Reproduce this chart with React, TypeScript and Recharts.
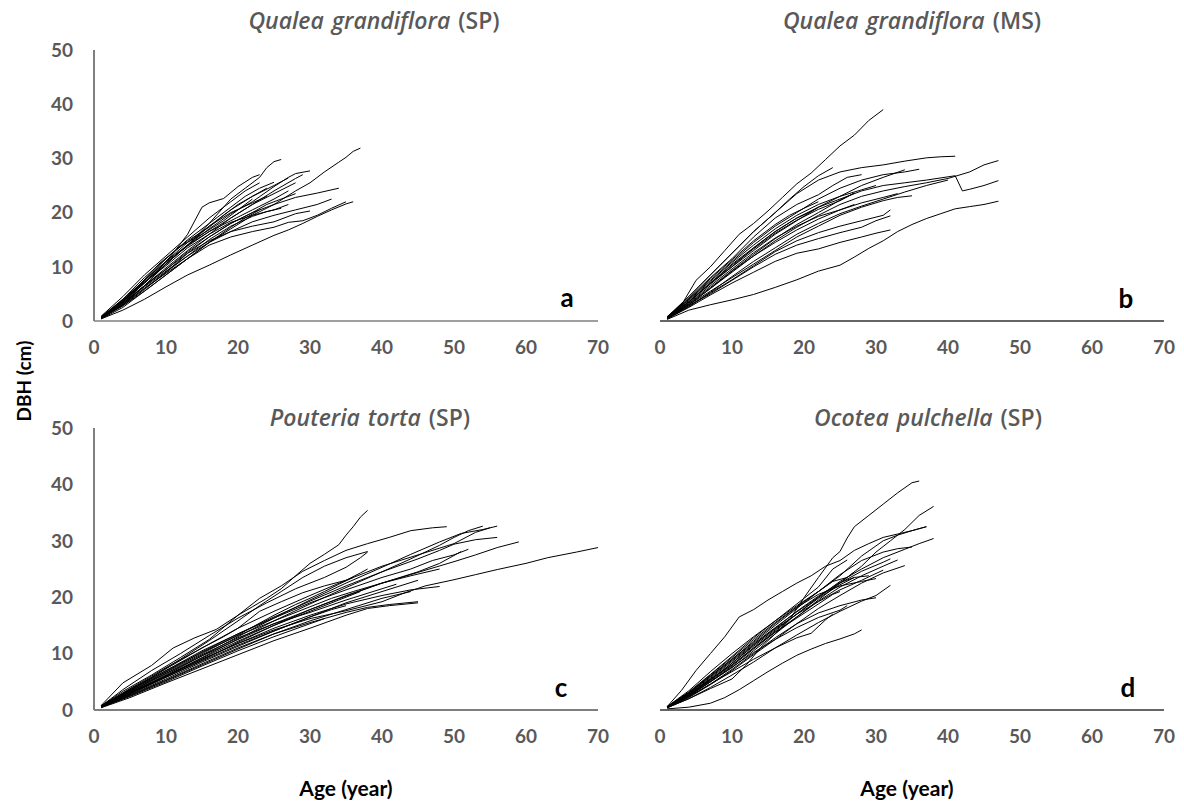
import React from 'react';
import { LineChart, Line, XAxis, YAxis } from 'recharts';

type Curve = [number, number][];

const ageTicks = [0, 10, 20, 30, 40, 50, 60, 70];
const dbhTicks = [0, 10, 20, 30, 40, 50];

// panel a - Qualea grandiflora (SP)
const qualeaSP: Curve[] = [
  [[1, 0.8], [3, 2.6], [5, 4.5], [7, 7], [9, 9.5], [11, 12.5], [13, 16], [15, 21], [16, 21.8], [18, 22.6], [20, 24.8], [22, 26.5], [23, 27]],
  [[1, 0.5], [4, 3], [7, 6.5], [10, 10.5], [13, 14], [16, 18], [19, 22.5], [21, 24.5], [23, 26.5], [24, 28.3], [25, 29.4], [26, 29.8]],
  [[1, 0.6], [4, 2.8], [7, 5.5], [10, 8.5], [13, 11.5], [16, 14.5], [19, 17], [22, 19.5], [25, 21.5], [28, 24], [30, 25.5], [32, 27.5], [34, 29.3], [35, 30.2], [36, 31.3], [37, 31.9]],
  [[1, 0.7], [4, 3.5], [7, 7], [10, 10.5], [13, 14], [16, 17], [19, 19.8], [22, 22], [25, 24.8], [27, 26.5], [28, 27.2], [30, 27.7]],
  [[1, 0.5], [4, 3], [7, 6], [10, 9], [13, 12.5], [16, 15.5], [19, 18], [22, 20], [25, 21.5], [28, 22.8], [31, 23.6], [34, 24.5]],
  [[1, 0.4], [4, 2], [7, 4], [10, 6.3], [13, 8.5], [16, 10.3], [19, 12.2], [22, 14], [25, 15.8], [27, 16.8], [29, 18], [31, 19.3], [33, 20.5], [35, 21.6], [36, 22]],
  [[1, 0.6], [4, 3], [7, 6], [10, 8.8], [13, 11.5], [16, 14], [19, 15.5], [22, 16.5], [25, 17.3], [27, 18.2], [29, 18.5], [31, 19.5], [33, 20.8], [35, 22]],
  [[1, 0.8], [4, 4], [7, 7.5], [10, 11.5], [13, 15], [16, 18], [19, 21], [21, 23], [23, 24.5], [25, 25.6]],
  [[1, 0.6], [4, 3.5], [7, 7], [10, 10.5], [13, 14], [16, 17.5], [19, 20.5], [22, 23], [25, 25], [27, 26.4]],
  [[1, 0.5], [4, 3.3], [7, 6.5], [10, 9.8], [13, 13], [16, 16], [19, 19], [22, 21.5], [25, 23.5], [28, 25.5]],
  [[1, 0.9], [4, 4.5], [7, 8.5], [10, 12], [13, 15.5], [16, 19], [19, 22], [21, 24], [23, 25.5]],
  [[1, 0.5], [4, 3], [7, 6.5], [10, 9.5], [13, 12.8], [16, 15.5], [19, 18], [22, 20], [24, 21.5], [26, 22.5], [28, 23.5]],
  [[1, 0.6], [4, 3.3], [7, 6.5], [10, 9.5], [13, 12.5], [16, 14.8], [19, 16.5], [22, 17.5], [25, 18.3], [28, 19.8], [30, 20.3]],
  [[1, 0.7], [4, 3.8], [7, 7.5], [10, 11], [13, 14.5], [16, 17.5], [19, 20], [22, 21.8], [24, 23]],
  [[1, 0.4], [4, 2.5], [7, 5.5], [10, 8.5], [13, 11.5], [16, 14.5], [19, 17.3], [21, 19], [23, 20.5]],
  [[1, 0.5], [4, 3.5], [7, 7.5], [10, 11], [13, 14], [16, 16.5], [19, 18.5], [22, 20.5], [25, 22.5], [27, 24]],
  [[1, 0.6], [4, 4], [7, 8], [10, 11.5], [13, 14.8], [16, 17.3], [18, 19.5], [20, 21.5], [22, 23], [24, 24.5]],
  [[1, 0.8], [4, 3.8], [7, 7.2], [10, 10.2], [13, 13.5], [16, 16], [19, 18.2], [22, 19.5], [25, 20.5], [27, 21.5]],
  [[1, 0.5], [4, 2.8], [7, 5.8], [10, 9], [13, 12], [16, 15], [19, 17.5], [22, 19.3], [24, 20.2], [26, 20.8]],
  [[1, 0.6], [4, 3.6], [7, 7.2], [10, 10.8], [13, 13.8], [16, 16.5], [19, 19], [22, 21.5], [25, 24], [28, 26.3], [29, 27]],
  [[1, 0.7], [3, 2.5], [6, 6.2], [9, 10.5], [12, 13.8], [15, 16], [18, 18.5], [20, 20.5], [22, 22.5]],
  [[1, 0.5], [4, 3.2], [7, 6.3], [10, 9.2], [13, 12], [16, 14.5], [19, 16.5], [22, 18.3], [25, 19.5], [28, 20.5], [31, 21.5], [33, 22.5]],
];

// panel b - Qualea grandiflora (MS)
const qualeaMS: Curve[] = [
  [[1, 0.8], [3, 3], [5, 7.5], [7, 10], [9, 13], [11, 16], [13, 18], [15, 20.3], [17, 22.8], [19, 25.3], [21, 27.3], [23, 29.8], [25, 32.3], [27, 34.3], [29, 37], [31, 39]],
  [[1, 0.6], [4, 4.5], [7, 8.5], [10, 12.5], [13, 16.5], [16, 20], [19, 23.5], [22, 26], [25, 27.5], [28, 28.3], [31, 28.8], [34, 29.5], [37, 30.1], [39, 30.3], [41, 30.4]],
  [[1, 0.5], [4, 3.5], [7, 7], [10, 10.5], [13, 13.5], [16, 16.5], [19, 19], [22, 21], [25, 22.5], [28, 24], [31, 25], [34, 25.5], [37, 26], [40, 26.6], [41, 26.8], [42, 24], [43, 24.3], [45, 25], [47, 25.9]],
  [[1, 0.5], [4, 3], [7, 6], [10, 9], [13, 12], [16, 14.8], [19, 17.3], [22, 19.5], [25, 21.5], [28, 23], [31, 24], [34, 24.8], [37, 25.5], [40, 26.3], [43, 27.5], [45, 28.8], [47, 29.6]],
  [[1, 0.3], [4, 2], [7, 3], [10, 3.9], [13, 4.9], [16, 6.2], [19, 7.6], [22, 9.2], [25, 10.3], [27, 11.8], [29, 13.4], [31, 14.8], [33, 16.5], [35, 17.8], [37, 18.9], [39, 19.8], [41, 20.7], [43, 21.1], [45, 21.5], [47, 22.1]],
  [[1, 0.8], [4, 4.5], [7, 8.5], [10, 12.5], [13, 16.5], [16, 20], [18, 22.5], [20, 24.8], [22, 26.8], [24, 28.3]],
  [[1, 0.6], [4, 4], [7, 7.5], [10, 11], [13, 14.5], [16, 17.5], [19, 20], [22, 22.5], [25, 24.5], [28, 26], [31, 27], [34, 27.5], [36, 28]],
  [[1, 0.5], [4, 3.5], [7, 7], [10, 10], [13, 13], [16, 16], [19, 18.5], [22, 21], [25, 23], [28, 25], [31, 26.5], [34, 27.9]],
  [[1, 0.7], [4, 4.2], [7, 8], [10, 11.5], [13, 15.5], [16, 19], [19, 21.5], [22, 23.3], [24, 25], [26, 26.5], [28, 27]],
  [[1, 0.5], [4, 3], [7, 5.5], [10, 8], [13, 10.5], [16, 13], [19, 15.5], [22, 17.5], [25, 19.5], [28, 21], [31, 22.2], [33, 22.8], [35, 23.1]],
  [[1, 0.5], [4, 2.8], [7, 5], [10, 7.5], [13, 10], [16, 12.3], [19, 14], [22, 15.2], [25, 16.3], [28, 17.3], [30, 18.5], [32, 19.4]],
  [[1, 0.4], [4, 2.5], [7, 4.8], [10, 7], [13, 9], [16, 11], [19, 12.5], [22, 13.3], [25, 14.5], [28, 15.5], [30, 16.2], [32, 16.8]],
  [[1, 0.6], [4, 3.5], [7, 6.8], [10, 10], [13, 13.5], [16, 16.5], [19, 19], [21, 20.2], [22, 21]],
  [[1, 0.5], [4, 3.2], [7, 6.2], [10, 9.3], [13, 12.3], [16, 15.2], [19, 17.8], [22, 20], [25, 22.3], [27, 23.6]],
  [[1, 0.5], [4, 3], [7, 6], [10, 9.2], [13, 12], [16, 14.5], [19, 16.8], [22, 18.8], [25, 20.5], [28, 21.8], [31, 22.8], [33, 23.5]],
  [[1, 0.6], [4, 3.8], [7, 7.3], [10, 10.8], [13, 14], [16, 17], [19, 19.5], [22, 21.5], [25, 23], [28, 24.2], [30, 25]],
  [[1, 0.4], [4, 2.6], [7, 5.3], [10, 8.2], [13, 11], [16, 13.5], [19, 16], [22, 18], [25, 19.8], [28, 21.2], [31, 22.5], [34, 23.8], [37, 25], [40, 26]],
  [[1, 0.5], [4, 3.3], [7, 6.5], [10, 9.6], [13, 12.6], [16, 15.3], [19, 17.5], [22, 19.3], [25, 20.5], [27, 21.5]],
  [[1, 0.7], [4, 4], [7, 7.8], [10, 11.3], [13, 14.8], [16, 17.8], [18, 19.5], [20, 20.8], [22, 22]],
  [[1, 0.5], [4, 2.8], [7, 5.2], [10, 7.6], [13, 10.2], [16, 12.8], [19, 14.8], [22, 16.3], [25, 17.5], [28, 18.5], [31, 19.5], [32, 20.5]],
  [[1, 0.6], [4, 3.6], [7, 7], [10, 10.3], [13, 13.3], [16, 16.2], [19, 18.6], [22, 20.6], [25, 22.2], [27, 23.6]],
];

// panel c - Pouteria torta (SP)
const pouteria: Curve[] = [
  [[1, 0.8], [4, 4.8], [8, 7.9], [11, 11], [14, 12.8], [17, 14.3], [20, 16.8], [22, 18.3], [24, 19.8], [26, 21.5], [28, 23.8], [30, 26], [32, 27.6], [34, 29.3], [35, 31], [36, 32.5], [37, 34.2], [38, 35.4]],
  [[1, 0.7], [4, 3.3], [8, 6.2], [12, 9.3], [16, 12.5], [20, 16.8], [23, 19.8], [26, 22], [29, 24.6], [32, 26.5], [35, 28.3], [38, 29.5], [41, 30.6], [44, 31.8], [47, 32.3], [49, 32.5]],
  [[1, 0.7], [4, 3], [8, 5.8], [12, 9], [16, 12.3], [20, 15.8], [23, 18.5], [26, 21], [29, 23.5], [32, 25.5], [35, 27], [38, 28.1]],
  [[1, 0.6], [5, 3], [10, 6], [15, 9.3], [20, 12.6], [25, 15.8], [30, 18.8], [35, 21.7], [40, 24.5], [44, 26.8], [48, 29.2], [50, 30.6], [52, 31.8], [54, 32.6]],
  [[1, 0.5], [5, 3], [10, 6.2], [15, 9.6], [20, 13], [25, 16.3], [30, 19.5], [35, 22.5], [40, 25.3], [44, 27.6], [48, 29.8], [51, 31.3], [54, 32], [56, 32.6]],
  [[1, 0.6], [5, 3.4], [10, 6.8], [15, 10.3], [20, 13.5], [25, 16.5], [30, 19.3], [35, 22], [40, 24.5], [45, 26.8], [48, 28.3], [50, 29.4], [53, 30.2], [56, 30.6]],
  [[1, 0.5], [5, 2.8], [10, 5.8], [15, 8.8], [20, 12], [25, 15], [30, 17.8], [35, 20.3], [40, 22.5], [45, 24.4], [50, 26.3], [53, 27.5], [56, 28.8], [59, 29.8]],
  [[1, 0.6], [5, 3], [10, 6], [15, 9], [20, 11.8], [25, 14.2], [30, 16.2], [35, 17.6], [40, 19.2], [43, 20.7], [46, 22], [50, 23.1], [53, 24], [56, 24.9], [60, 26], [63, 27], [67, 28], [70, 28.8]],
  [[1, 0.7], [5, 3.6], [10, 7], [15, 10.5], [20, 13.5], [25, 16.3], [30, 19], [35, 21.3], [40, 23.5], [44, 25], [47, 26.5], [50, 27.5], [52, 28.5]],
  [[1, 0.5], [5, 3.2], [10, 6.4], [15, 9.6], [20, 12.5], [25, 15.3], [30, 17.8], [35, 20.2], [40, 22.5], [45, 24.5], [48, 26], [51, 28.1]],
  [[1, 0.6], [5, 3], [10, 6], [15, 9], [20, 11.8], [25, 14.5], [30, 16.8], [35, 18.8], [40, 20.3], [44, 21.3], [48, 21.9]],
  [[1, 0.5], [5, 2.6], [10, 5.3], [15, 8.2], [20, 11], [25, 13.5], [30, 15.5], [35, 17.3], [38, 18.2], [41, 18.7], [45, 19.2]],
  [[1, 0.8], [5, 3.5], [10, 7.3], [15, 11], [18, 13], [20, 14.5], [23, 17.5], [26, 19.2], [29, 20.8], [32, 22], [35, 23], [37, 24.3], [38, 25]],
  [[1, 0.4], [5, 2.2], [10, 4.8], [15, 7.3], [20, 9.8], [25, 12.3], [30, 14.5], [35, 16.8], [38, 18], [41, 18.5], [45, 19]],
  [[1, 0.5], [5, 2.5], [10, 5.2], [15, 8], [20, 10.8], [25, 13.5], [30, 15.8], [35, 17.8], [40, 19.8], [44, 21]],
  [[1, 0.6], [5, 3.5], [10, 7], [15, 10.2], [20, 13.2], [25, 15.8], [30, 18.3], [33, 19.8], [36, 21], [40, 22.5], [44, 23.8], [48, 25]],
  [[1, 0.5], [5, 2.9], [10, 5.8], [15, 8.7], [20, 11.5], [25, 14], [30, 16.5], [35, 19], [40, 21], [45, 23]],
  [[1, 0.6], [5, 3.3], [10, 6.5], [15, 9.8], [20, 12.8], [25, 15.3], [30, 17.3], [35, 19.5], [40, 21.5], [42, 22.3]],
  [[1, 0.7], [4, 3.6], [8, 7], [12, 10], [16, 13.2], [20, 16.3], [24, 19], [28, 21.5], [32, 23.5], [35, 25.3], [37, 27], [38, 28]],
  [[1, 0.5], [5, 3.1], [10, 6.1], [15, 9.2], [20, 12.2], [25, 15], [30, 17.5], [34, 19.5], [37, 21]],
  [[1, 0.6], [5, 3.2], [10, 6.7], [15, 10], [20, 13.3], [25, 16.8], [28, 18.7], [30, 19.8], [32, 21], [34, 22.3], [36, 23.5]],
  [[1, 0.5], [5, 2.7], [10, 5.5], [15, 8.5], [20, 11.3], [25, 14], [30, 16.5], [33, 17.8], [35, 18.5]],
  [[1, 0.7], [5, 3.8], [10, 7.5], [15, 11], [20, 14.5], [25, 17.5], [30, 20.3], [35, 23], [40, 25.5], [45, 27.5], [50, 29.5], [53, 31.5], [55, 32.3]],
  [[1, 0.5], [5, 2.4], [10, 5], [15, 7.8], [20, 10.5], [25, 13], [30, 15.3], [32, 16.2]],
];

// panel d - Ocotea pulchella (SP)
const ocotea: Curve[] = [
  [[1, 0.4], [4, 2], [7, 3.8], [10, 5.5], [12, 8], [14, 11.1], [16, 13.5], [18, 16], [20, 19.9], [22, 23.5], [24, 27], [25, 28.1], [26, 30.5], [27, 32.5], [29, 34.5], [31, 36.5], [33, 38.5], [35, 40.3], [36, 40.6]],
  [[1, 0.6], [3, 3.5], [5, 7], [7, 10], [9, 13], [11, 16.5], [13, 17.8], [15, 19.5], [17, 21], [19, 22.5], [21, 23.8], [23, 25.5], [25, 26.5], [27, 28.3], [29, 29.5], [31, 30.6], [33, 31.2], [35, 31.8], [37, 32.5]],
  [[1, 0.5], [4, 2.5], [7, 5], [10, 7.5], [13, 10.5], [16, 13.5], [19, 16.5], [22, 19.5], [25, 22.5], [28, 25.5], [30, 28], [32, 30], [34, 32], [36, 34.5], [38, 36.1]],
  [[1, 0.5], [4, 2.8], [7, 5.5], [10, 8], [13, 11], [16, 14], [19, 17], [22, 20], [25, 22.8], [28, 25], [31, 27], [34, 28.5], [36, 29.5], [38, 30.4]],
  [[1, 0.6], [4, 3], [7, 6], [10, 9], [13, 12], [16, 15], [19, 18], [22, 21], [25, 24], [28, 26.5], [31, 28], [33, 28.6], [35, 28.9]],
  [[1, 0.5], [4, 2.5], [7, 5], [10, 7.8], [13, 10.8], [16, 13.8], [19, 16.5], [22, 19.3], [25, 21.8], [28, 23.8], [31, 25.5], [33, 26.6]],
  [[1, 0.4], [4, 2.2], [7, 4.5], [10, 7], [13, 9.8], [16, 12.5], [19, 15.3], [22, 18], [25, 20.3], [28, 22.5], [31, 24.3], [34, 25.6]],
  [[1, 0.4], [4, 2], [7, 4], [10, 6.2], [13, 8.5], [16, 11], [19, 13.3], [22, 15.5], [25, 17.5], [28, 19.3], [30, 20.3], [32, 22.1]],
  [[1, 0.2], [4, 0.5], [7, 1.2], [9, 2.2], [11, 3.6], [13, 5.2], [15, 6.8], [17, 8.3], [19, 9.7], [21, 10.8], [23, 11.8], [25, 12.6], [27, 13.5], [28, 14.2]],
  [[1, 0.6], [4, 3.2], [7, 6.3], [10, 9.5], [13, 12.8], [16, 15.8], [19, 18.8], [22, 21.8], [24, 25], [26, 26.6]],
  [[1, 0.5], [4, 2.6], [7, 5.2], [10, 8], [13, 11], [16, 13.8], [19, 16.3], [22, 18.8], [24, 20.5], [25, 21]],
  [[1, 0.5], [4, 2.4], [7, 4.6], [10, 6.8], [13, 9], [16, 11], [19, 12.8], [21, 13.6], [23, 16], [24, 17]],
  [[1, 0.6], [4, 3], [7, 6], [10, 9], [13, 12.2], [16, 15.3], [19, 18.2], [22, 20.5], [25, 22], [28, 22.8], [30, 23.3]],
  [[1, 0.5], [4, 2.7], [7, 5.4], [10, 8.3], [13, 11.5], [16, 14.5], [19, 17.5], [22, 20.2], [25, 22.6], [27, 23.5], [29, 23.8]],
  [[1, 0.6], [4, 3.4], [7, 6.8], [10, 10], [13, 13], [16, 15.8], [19, 18.5], [22, 21], [25, 23.8], [28, 27.3], [31, 30], [33, 31], [35, 31.8], [37, 32.5]],
  [[1, 0.4], [4, 2.3], [7, 4.6], [10, 7.2], [13, 10], [16, 12.8], [19, 15.3], [22, 17.2], [25, 18.5], [28, 19.5], [30, 19.9]],
  [[1, 0.5], [4, 2.9], [7, 5.8], [10, 8.8], [13, 11.8], [16, 14.6], [19, 17.4], [22, 20], [25, 22.5], [28, 24.6], [31, 26.2], [32, 26.8]],
  [[1, 0.5], [4, 2.5], [7, 5], [10, 7.6], [13, 10.2], [16, 12.5], [19, 14.6], [22, 16.4], [25, 17.7], [26, 18.5]],
  [[1, 0.5], [4, 2.6], [7, 5.3], [10, 8.3], [13, 11.3], [16, 14.2], [19, 17], [22, 19.8], [25, 22.2], [27, 23.5]],
  [[1, 0.6], [4, 3.1], [7, 6.2], [10, 9.3], [13, 12.5], [16, 15.5], [19, 18.3], [22, 21], [24, 22.8], [26, 23.5], [27, 24.5]],
  [[1, 0.5], [4, 2.8], [7, 5.6], [10, 8.6], [13, 11.6], [16, 14.4], [19, 17], [22, 19.2], [25, 21.3], [28, 23], [31, 24.8]],
];

const FONT = 'Lato, "Open Sans", sans-serif';
const GREY = '#595959';

type PanelProps = {
  curves: Curve[];
  l: number;
  t: number;
  r: number;
  b: number;
  showY: boolean;
  axisColor: string;
};

function Panel({ curves, l, t, r, b, showY, axisColor }: PanelProps) {
  const padL = 80;
  const padT = 20;
  const padR = 20;
  const padB = 50;
  const yW = showY ? 50 : 0;
  const xH = 40;
  const tickStyle = { fill: GREY, fontSize: 19, fontWeight: 700, fontFamily: FONT };
  return (
    <div style={{ position: 'absolute', left: l - padL, top: t - padT }}>
      <LineChart
        width={r - l + padL + padR}
        height={b - t + padT + padB}
        margin={{ top: padT, right: padR, left: padL - yW, bottom: padB - xH }}
      >
        <XAxis
          type="number"
          dataKey="x"
          domain={[0, 70]}
          ticks={ageTicks}
          interval={0}
          height={xH}
          tickLine={false}
          tickSize={0}
          tickMargin={20}
          axisLine={{ stroke: axisColor, strokeWidth: 1.5 }}
          tick={tickStyle}
          allowDataOverflow
        />
        <YAxis
          type="number"
          domain={[0, 50]}
          ticks={dbhTicks}
          interval={0}
          width={yW}
          hide={!showY}
          tickLine={false}
          tickSize={0}
          tickMargin={21}
          axisLine={{ stroke: '#7f7f7f', strokeWidth: 2 }}
          tick={tickStyle}
          allowDataOverflow
        />
        {curves.map((c, i) => (
          <Line
            key={i}
            data={c.map(([x, y]) => ({ x, y }))}
            dataKey="y"
            type="linear"
            stroke="#000"
            strokeWidth={1}
            dot={false}
            activeDot={false}
            isAnimationActive={false}
          />
        ))}
      </LineChart>
    </div>
  );
}

function Title({ x, y, species, site }: { x: number; y: number; species: string; site: string }) {
  return (
    <div
      style={{
        position: 'absolute',
        left: x,
        top: y,
        transform: 'translate(-50%, -50%)',
        whiteSpace: 'nowrap',
        color: GREY,
        fontFamily: '"Open Sans", sans-serif',
        fontSize: 23,
        fontWeight: 600,
        wordSpacing: 2,
      }}
    >
      <i>{species}</i> ({site})
    </div>
  );
}

function Tag({ x, y, text, size, rotate }: { x: number; y: number; text: string; size: number; rotate?: boolean }) {
  return (
    <div
      style={{
        position: 'absolute',
        left: x,
        top: y,
        transform: `translate(-50%, -50%)${rotate ? ' rotate(-90deg)' : ''}`,
        whiteSpace: 'nowrap',
        color: '#000',
        fontFamily: FONT,
        fontSize: size,
        fontWeight: 700,
      }}
    >
      {text}
    </div>
  );
}

export default function App() {
  return (
    <div style={{ position: 'absolute', left: 0, top: 0, width: 1184, height: 803, background: '#fff' }}>
      <Panel curves={qualeaSP} l={94} t={50} r={598} b={321} showY axisColor="#7f7f7f" />
      <Panel curves={qualeaMS} l={660} t={50} r={1164} b={321} showY={false} axisColor="#333" />
      <Panel curves={pouteria} l={94} t={428} r={598} b={710} showY axisColor="#555" />
      <Panel curves={ocotea} l={660} t={428} r={1164} b={710} showY={false} axisColor="#333" />

      <Title x={374} y={20} species="Qualea grandiflora" site="SP" />
      <Title x={912} y={20} species="Qualea grandiflora" site="MS" />
      <Title x={370} y={417} species="Pouteria torta" site="SP" />
      <Title x={928} y={417} species="Ocotea pulchella" site="SP" />

      <Tag x={567} y={297} text="a" size={26} />
      <Tag x={1126} y={298} text="b" size={26} />
      <Tag x={561} y={687} text="c" size={26} />
      <Tag x={1128} y={687} text="d" size={26} />

      <Tag x={23} y={381} text="DBH (cm)" size={19} rotate />
      <Tag x={346} y={787} text="Age (year)" size={21} />
      <Tag x={907} y={787} text="Age (year)" size={21} />
    </div>
  );
}
